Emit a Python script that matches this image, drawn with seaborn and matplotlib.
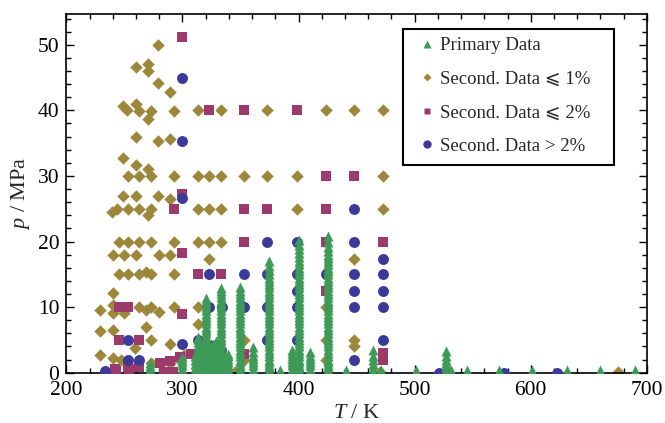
import matplotlib
matplotlib.use('Agg')
import matplotlib.pyplot as plt
from matplotlib.lines import Line2D
from matplotlib.patches import Rectangle
from matplotlib.ticker import MultipleLocator
import seaborn as sns
import pandas as pd

# ---- data ----
# secondary data <= 1 % (diamonds)
dia_T = [279, 260, 270, 270, 279, 289,
         249, 252, 260, 263, 273, 270, 293, 313, 333, 373, 424, 448, 473,
         260, 279, 289, 249, 260, 270,
         253, 263, 273, 293, 313, 323, 333, 353, 373, 399, 473,
         249, 260, 279, 289,
         239, 244, 253, 263, 273, 270, 313, 323, 333, 399, 473,
         245, 253, 263, 273, 293, 313, 323, 333,
         240, 250, 260, 280, 289, 323, 448,
         245, 253, 263, 269, 273, 293,
         240, 240, 229, 263, 269, 273, 280, 293, 313, 240, 250,
         229, 240, 269, 313, 273, 289, 259, 229, 240, 247, 273,
         289, 298, 301, 309.5, 321, 330,
         353, 353, 424, 424, 424, 448, 448, 345, 470, 675]
dia_p = [50.0, 46.6, 47.0, 46.0, 44.2, 42.8,
         40.6, 40.0, 41.0, 39.9, 39.9, 38.7, 39.9, 40, 40, 40, 40, 40, 40,
         35.9, 35.3, 35.6, 32.8, 31.7, 31.0,
         30, 30, 30, 30, 30, 30, 30, 30, 30, 30, 30,
         26.9, 26.9, 26.9, 26.5,
         24.5, 24.9, 24.9, 24.9, 24.9, 24.0, 25, 25, 25, 25, 25,
         20, 20, 20, 20, 20, 20, 20, 20,
         17.9, 17.9, 17.9, 17.9, 17.9, 17.3, 17.4,
         15, 15, 15, 15.3, 15, 15,
         12.1, 10.3, 9.6, 10, 9.6, 10, 9.3, 10, 10, 9.1, 9.1,
         6.3, 6.5, 7.0, 7.4, 5.0, 4.3, 3.7, 2.7, 2.3, 1.9, 1.4,
         1.4, 1.9, 2.7, 2.9, 3.7, 4.2,
         5.0, 1.9, 10, 5, 1.9, 5, 4, 0.1, 0.1, 0.1]

# secondary data <= 2 % (squares)
sq_T = [300, 323, 353, 399, 424, 448, 300, 293, 353, 373, 424,
        353, 424, 473, 300, 313, 333, 424, 245, 253, 300, 245, 263,
        353, 473, 473, 242, 253, 263, 243, 254,
        281, 289, 298, 307, 317, 284, 292]
sq_p = [51.2, 40, 40, 40, 30, 30, 27.3, 24.9, 24.9, 24.9, 24.9,
        19.9, 19.9, 19.9, 18.2, 15, 15, 12.4, 10, 10, 8.9, 5, 5,
        2.9, 2.0, 3.0, 0.6, 0.9, 0.9, 0.3, 0.5,
        1.5, 1.8, 2.4, 2.9, 3.7, 0.1, 0.1]

# secondary data > 2 % (circles)
circ_T = [300, 300, 300, 448, 373, 399, 448, 473,
          323, 353, 373, 399, 424, 448, 473, 399, 448, 473,
          323, 334, 353, 373, 399, 448, 473,
          253, 300, 313, 323, 373, 399, 473, 448, 253, 263, 233,
          323, 333, 521, 577, 623]
circ_p = [45, 35.4, 26.7, 25, 20, 20, 20, 17.4,
          15, 15, 15, 15, 15, 15, 15, 12.4, 12.4, 12.4,
          10, 10, 10, 10, 10, 10, 10,
          5, 4.4, 5, 4.2, 5, 5, 5, 2, 2, 2, 0.3,
          2.2, 3.5, 0, 0, 0]

# primary data: isotherm columns
prim_cols_T = [272, 299.5, 311, 313.5, 316, 318.5, 320.5, 323, 326, 329,
               333, 336, 339.5, 350, 361,
               375, 384, 394, 400, 410, 425, 441, 464.5, 471,
               501, 527, 531, 545, 573, 601, 631, 660, 690]
col_272 = [0.1, 0.5, 1.0, 1.4]
col_299 = [0.1, 0.6, 1.1, 1.6, 2.0, 2.4]
col_311 = [0.1, 0.7, 1.3, 1.9, 2.5]
col_313 = [0.1, 0.6, 1.1, 1.6, 2.1, 2.6, 3.1, 3.6, 4.1, 4.6, 5.1, 5.5]
col_316 = [0.1, 0.8, 1.5, 2.2, 2.9, 3.5]
col_318 = [0.1, 0.7, 1.3, 1.9, 2.5, 3.1, 3.8]
col_320 = [0.1, 0.4, 0.8, 1.2, 1.6, 2.0, 2.5, 3.0, 3.5, 4.0, 4.5, 5.0, 5.5,
           6.0, 6.5, 7.0, 7.5, 8.0, 8.5, 9.0, 9.5, 10.0, 10.5, 11.0, 11.4]
col_323 = [0.1, 0.7, 1.3, 1.9, 2.5, 3.1, 3.7, 4.2]
col_326 = [0.1, 0.7, 1.3, 1.9, 2.5, 3.1, 3.8, 4.4]
col_329 = [0.1, 0.7, 1.3, 1.9, 2.5, 3.1, 3.7, 4.3, 4.8]
col_333 = [0.1, 0.4, 0.8, 1.2, 1.6, 2.0, 2.5, 3.0, 3.5, 4.0, 4.5, 5.0, 5.5,
           6.0, 6.5, 7.0, 7.5, 8.0, 8.5, 9.0, 9.5, 10.0, 10.5, 11.0, 11.5,
           12.0, 12.5, 12.9]
col_336 = [0.1, 0.7, 1.3, 1.9, 2.5]
col_339 = [0.1, 0.6, 1.1, 1.6, 2.1, 2.5, 2.9]
col_350 = [0.1, 0.4, 0.8, 1.2, 1.6, 2.0, 2.5, 3.0, 3.5, 4.0, 4.5, 5.0, 5.5,
           6.0, 6.5, 7.0, 7.5, 8.0, 8.5, 9.0, 9.5, 10.0, 10.5, 11.0, 11.5,
           12.0, 12.5, 13.0]
col_361 = [0.1, 0.6, 1.1, 1.6, 2.1, 2.6, 3.2, 3.9]
col_375 = [0.1, 0.4, 0.8, 1.2, 1.6, 2.0, 2.5, 3.0, 3.5, 4.0, 4.5, 5.0, 5.5,
           6.0, 6.5, 7.0, 7.5, 8.0, 8.5, 9.0, 9.5, 10.0, 10.5, 11.0, 11.5,
           12.0, 12.5, 13.0, 13.5, 14.0, 14.5, 15.0, 15.6, 16.3, 17.1]
col_384 = [0.1, 0.4]
col_394 = [0.1, 0.6, 1.1, 1.6, 2.1, 2.6, 3.0, 3.5]
col_400 = [0.1, 0.4, 0.8, 1.2, 1.6, 2.0, 2.5, 3.0, 3.5, 4.0, 4.5, 5.0, 5.5,
           6.0, 6.5, 7.0, 7.5, 8.0, 8.5, 9.0, 9.5, 10.0, 10.5, 11.0, 11.5,
           12.0, 12.5, 13.0, 13.5, 14.0, 14.5, 15.0, 15.5, 16.0, 16.5, 17.0,
           17.6, 18.2, 18.8, 19.5, 20.3]
col_410 = [0.1, 0.6, 1.1, 1.6, 2.1, 2.6, 3.2]
col_425 = [0.1, 0.4, 0.8, 1.2, 1.6, 2.0, 2.5, 3.0, 3.5, 4.0, 4.5, 5.0, 5.5,
           6.0, 6.5, 7.0, 7.5, 8.0, 8.5, 9.0, 9.5, 10.0, 10.5, 11.0, 11.5,
           12.0, 12.5, 13.0, 13.5, 14.0, 14.5, 15.0, 15.5, 16.0, 16.5, 17.0,
           17.5, 18.0, 18.6, 19.2, 20.0, 20.8]
col_441 = [0.1, 0.4]
col_464 = [0.1, 0.7, 1.3, 1.9, 2.6, 3.4]
col_471 = [0.1, 0.4]
col_501 = [0.1, 0.4]
col_527 = [0.1, 0.5, 1.0, 1.5, 2.0, 2.6, 3.3]
col_531 = [0.1, 0.4]
col_545 = [0.1, 0.4]
col_573 = [0.1, 0.4]
col_601 = [0.1, 0.4]
col_631 = [0.1, 0.4]
col_660 = [0.1, 0.4]
col_690 = [0.1, 0.4]
prim_cols_p = [col_272, col_299, col_311, col_313, col_316, col_318, col_320,
               col_323, col_326, col_329, col_333, col_336, col_339, col_350,
               col_361, col_375, col_384, col_394, col_400, col_410, col_425,
               col_441, col_464, col_471, col_501, col_527, col_531, col_545,
               col_573, col_601, col_631, col_660, col_690]

legend_labels = ['Primary Data', 'Second. Data \u2a7d 1%',
                 'Second. Data \u2a7d 2%', 'Second. Data > 2%']

# ---- style ----
c_green = '#3d9a57'
c_olive = '#9c873a'
c_mag = '#9b3a6b'
c_blue = '#3b3a9b'

sns.set_style('ticks')
plt.rcParams['font.family'] = ['Liberation Serif', 'DejaVu Serif', 'DejaVu Sans']
plt.rcParams['mathtext.fontset'] = 'custom'
plt.rcParams['mathtext.rm'] = 'Liberation Serif'
plt.rcParams['mathtext.it'] = 'Liberation Serif:italic'

prim = pd.DataFrame({
    'T': [t for t, ps in zip(prim_cols_T, prim_cols_p) for _ in ps],
    'p': [p for ps in prim_cols_p for p in ps],
})

fig = plt.figure(figsize=(6.65, 4.23), dpi=100)
ax = fig.add_axes([0.0997, 0.119, 0.873, 0.848])

sns.scatterplot(x=dia_T, y=dia_p, marker='D', s=40, color=c_olive,
                linewidth=0, ax=ax, zorder=2)
sns.scatterplot(x=sq_T, y=sq_p, marker='s', s=52, color=c_mag,
                linewidth=0, ax=ax, zorder=3)
sns.scatterplot(x=circ_T, y=circ_p, marker='o', s=62, color=c_blue,
                linewidth=0, ax=ax, zorder=4)
sns.scatterplot(data=prim, x='T', y='p', marker='^', s=52, color=c_green,
                linewidth=0, ax=ax, zorder=5)

ax.set_xlim(200, 700)
ax.set_ylim(0, 54.7)
ax.xaxis.set_major_locator(MultipleLocator(100))
ax.xaxis.set_minor_locator(MultipleLocator(20))
ax.yaxis.set_major_locator(MultipleLocator(10))
ax.yaxis.set_minor_locator(MultipleLocator(2))
ax.tick_params(which='both', direction='in', top=True, right=True,
               labelsize=15.5, width=1, colors='black')
ax.tick_params(which='major', length=6)
ax.tick_params(which='minor', length=3.5)
ax.tick_params(axis='x', pad=6)
ax.tick_params(axis='y', pad=5)
for s in ax.spines.values():
    s.set_linewidth(1.2)
    s.set_color('black')

ax.set_xlabel('$T$ / K', fontsize=16, labelpad=3)
ax.set_ylabel('$p$ / MPa', fontsize=16, labelpad=4)

# legend frame drawn as its own box, entries placed inside
ax.add_patch(Rectangle((0.580, 0.579), 0.363, 0.378, transform=ax.transAxes,
                       facecolor='white', edgecolor='black', linewidth=1.5,
                       zorder=9))
handles = [
    Line2D([], [], ls='none', marker='^', ms=5.5, color=c_green, mec='none'),
    Line2D([], [], ls='none', marker='D', ms=4.5, color=c_olive, mec='none'),
    Line2D([], [], ls='none', marker='s', ms=5, color=c_mag, mec='none'),
    Line2D([], [], ls='none', marker='o', ms=6, color=c_blue, mec='none'),
]
leg = ax.legend(handles, legend_labels, loc='upper left',
                bbox_to_anchor=(0.6085, 0.935), fontsize=13.5, frameon=False,
                handlelength=0.8, handletextpad=0.3, labelspacing=0.87,
                borderpad=0, borderaxespad=0)
leg.set_zorder(10)

fig.savefig('out.png', dpi=100)
